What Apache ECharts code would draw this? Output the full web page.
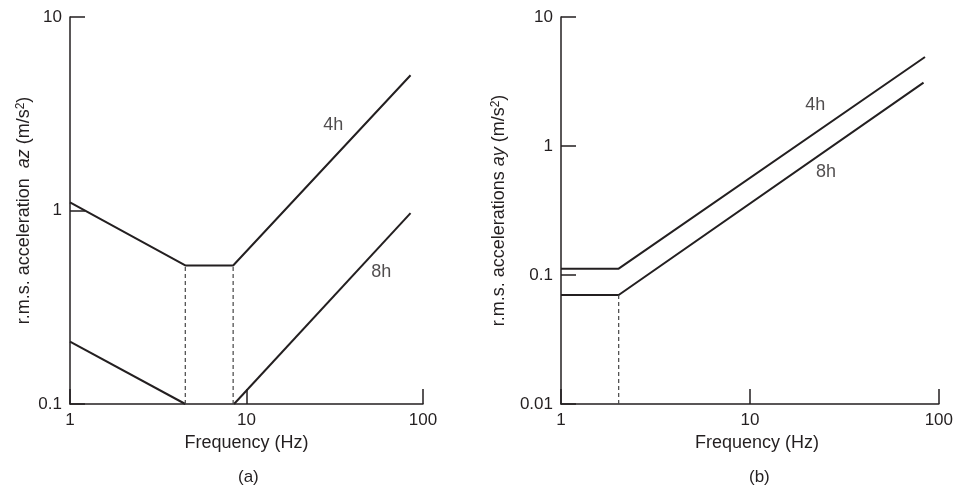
<!DOCTYPE html>
<html><head><meta charset="utf-8">
<script src="https://cdn.jsdelivr.net/npm/echarts@6/dist/echarts.min.js"></script>
<style>html,body{margin:0;padding:0;background:#fff}#c{width:956px;height:490px}</style>
</head><body><div id="c"></div>
<script>
// ---- Panel (a): vertical acceleration az ----
const aFreq4h = [1, 4.5, 8.4, 85];
const aVal4h  = [1.1, 0.52, 0.52, 5.0];
const aFreq8hLow = [1, 4.5];
const aVal8hLow  = [0.21, 0.1];
const aFreq8hHigh = [8.5, 85];
const aVal8hHigh  = [0.1, 0.97];
const aDashFreq = [4.5, 8.4];
const aDashFrom = [0.1, 0.1];
const aDashTo   = [0.52, 0.52];
const aLabels = ['4h', '8h'];
const aLabelFreq = [31, 58];
const aLabelVal  = [2.75, 0.478];

// ---- Panel (b): lateral acceleration ay ----
const bFreq4h = [1, 2.02, 84.5];
const bVal4h  = [0.112, 0.112, 4.9];
const bFreq8h = [1, 2.02, 83];
const bVal8h  = [0.07, 0.07, 3.1];
const bDashFreq = [2.02];
const bDashFrom = [0.01];
const bDashTo   = [0.07];
const bLabels = ['4h', '8h'];
const bLabelFreq = [22.2, 25.3];
const bLabelVal  = [2.08, 0.63];

const xTicks = [1, 10, 100];
const aYTicks = [0.1, 1, 10];
const bYTicks = [0.01, 0.1, 1, 10];

const FONT = '"Liberation Sans", Arial, Helvetica, sans-serif';
const INK = '#231f20';

function zip(xs, ys) { return xs.map((x, i) => [x, ys[i]]); }

function axisCommon() {
  return {
    type: 'log', logBase: 10,
    axisLine: { show: true, lineStyle: { color: INK, width: 1.5 } },
    axisTick: { show: true, inside: true, length: 15, lineStyle: { color: INK, width: 1.5 } },
    splitLine: { show: false },
    minorTick: { show: false },
    axisLabel: { color: INK, fontSize: 17, fontFamily: FONT, margin: 8, formatter: v => String(+v.toPrecision(6)) },
    nameTextStyle: { color: INK, fontSize: 18, fontFamily: FONT }
  };
}

function lineSeries(xi, yi, pts) {
  return { type: 'line', xAxisIndex: xi, yAxisIndex: yi, data: pts, symbol: 'none',
    lineStyle: { color: INK, width: 2 }, silent: true, animation: false };
}
function dashSeries(xi, yi, f, lo, hi) {
  return f.map((x, i) => ({ type: 'line', xAxisIndex: xi, yAxisIndex: yi,
    data: [[x, lo[i]], [x, hi[i]]], symbol: 'none',
    lineStyle: { color: '#444', width: 1.2, type: [4, 3] }, silent: true, animation: false }));
}
function labelSeries(xi, yi, names, f, v) {
  return { type: 'scatter', xAxisIndex: xi, yAxisIndex: yi, symbolSize: 0,
    data: names.map((n, i) => ({ value: [f[i], v[i]], name: n })),
    label: { show: true, position: 'inside', formatter: p => p.name, color: INK, fontSize: 18, fontFamily: FONT, textBorderWidth: 0 },
    silent: true, animation: false };
}

const richName = {
  n: { fontSize: 18, fontFamily: FONT, color: INK },
  i: { fontSize: 18, fontFamily: FONT, color: INK, fontStyle: 'italic' },
  s: { fontSize: 12, fontFamily: FONT, color: INK, verticalAlign: 'top' }
};

const xa0 = Object.assign(axisCommon(), { gridIndex: 0, min: xTicks[0], max: xTicks[2],
  name: 'Frequency (Hz)', nameLocation: 'middle', nameGap: 30 });
const xa1 = Object.assign(axisCommon(), { gridIndex: 1, min: xTicks[0], max: xTicks[2],
  name: 'Frequency (Hz)', nameLocation: 'middle', nameGap: 30 });
xa1.nameTextStyle = Object.assign({}, xa1.nameTextStyle, { padding: [0, 0, 0, 14] });

const ya0 = Object.assign(axisCommon(), { gridIndex: 0, min: aYTicks[0], max: aYTicks[2],
  name: '{n|r.m.s. acceleration  }{i|az}{n| (m/s}{s|2}{n|)}', nameLocation: 'middle', nameRotate: 90, nameGap: 37 });
ya0.nameTextStyle = Object.assign({}, ya0.nameTextStyle, { rich: richName });
const ya1 = Object.assign(axisCommon(), { gridIndex: 1, min: bYTicks[0], max: bYTicks[3],
  name: '{n|r.m.s. accelerations }{i|ay}{n| (m/s}{s|2}{n|)}', nameLocation: 'middle', nameRotate: 90, nameGap: 53 });
ya1.nameTextStyle = Object.assign({}, ya1.nameTextStyle, { rich: richName });

const chart = echarts.init(document.getElementById('c'), null, { renderer: 'canvas' });
chart.setOption({
  backgroundColor: '#fff',
  animation: false,
  grid: [
    { left: 70, top: 17, width: 353, height: 387 },
    { left: 561, top: 17, width: 382, height: 387 }
  ],
  xAxis: [xa0, xa1],
  yAxis: [ya0, ya1],
  graphic: [
    { type: 'text', left: 238, top: 469, style: { text: '(a)', fontSize: 17, fontFamily: FONT, fill: INK } },
    { type: 'text', left: 749, top: 469, style: { text: '(b)', fontSize: 17, fontFamily: FONT, fill: INK } }
  ],
  series: [
    lineSeries(0, 0, zip(aFreq4h, aVal4h)),
    lineSeries(0, 0, zip(aFreq8hLow, aVal8hLow)),
    lineSeries(0, 0, zip(aFreq8hHigh, aVal8hHigh)),
    ...dashSeries(0, 0, aDashFreq, aDashFrom, aDashTo),
    labelSeries(0, 0, aLabels, aLabelFreq, aLabelVal),
    lineSeries(1, 1, zip(bFreq4h, bVal4h)),
    lineSeries(1, 1, zip(bFreq8h, bVal8h)),
    ...dashSeries(1, 1, bDashFreq, bDashFrom, bDashTo),
    labelSeries(1, 1, bLabels, bLabelFreq, bLabelVal)
  ]
});
</script>
</body></html>
